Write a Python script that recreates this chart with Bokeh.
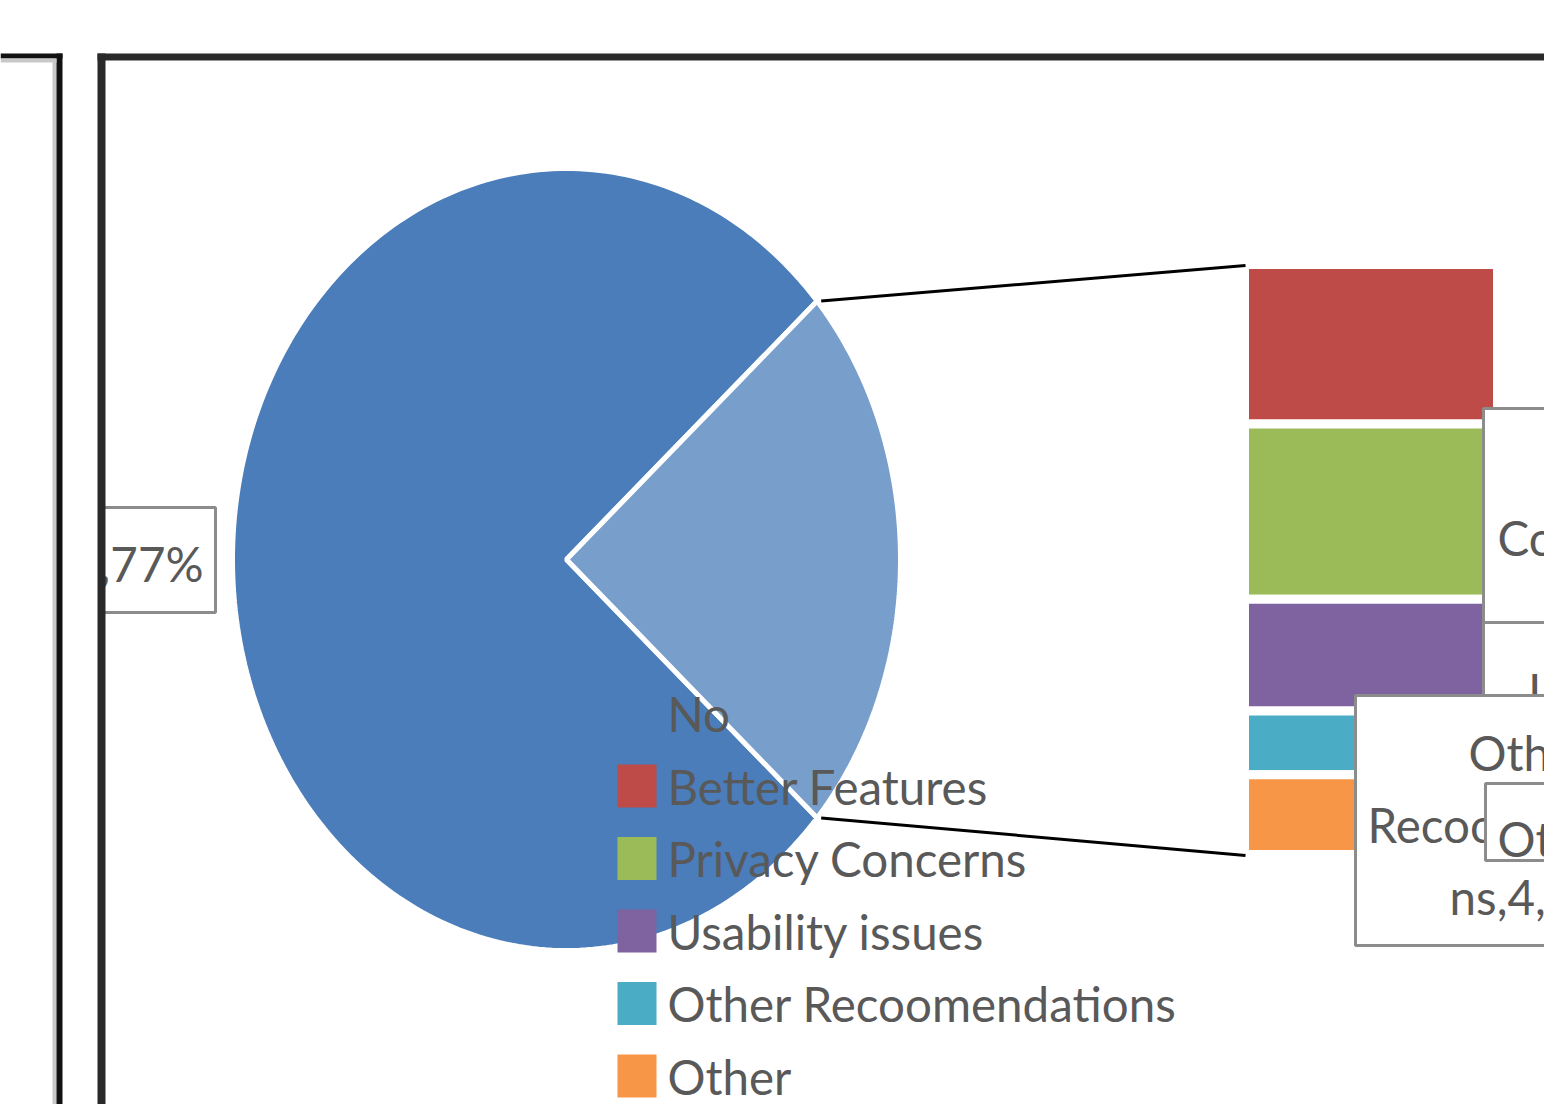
import numpy as np
from bokeh.plotting import figure
from bokeh.models import Range1d
from bokeh.core.properties import value
from bokeh.embed import file_html
from bokeh.resources import INLINE

# ---------------- data ----------------
categories = ["No", "Better Features", "Privacy Concerns", "Usability issues",
              "Other Recoomendations", "Other"]
counts = [124, 10, 11, 7, 4, 5]
colors = ["#4A7DBA", "#BE4B48", "#9BBB59", "#7F62A0", "#4BACC6", "#F79646"]
pie_colors = ["#4A7DBA", "#789FCC"]
main_label = ",77%"
label_privacy = ["Concerns,11,7%"]
label_usability = ["Usability"]
label_otherrec = ["Other", "Recoomendatio", "ns,4,2%"]
label_other = ["Other,5,3%"]

# ---------------- layout ----------------
W, H = 1544, 1104
FONT = value("Lato")
FS = value("47.5px")
TXT = "#595959"

p = figure(width=W, height=H, x_range=Range1d(0, W), y_range=Range1d(H, 0),
           x_axis_type=None, y_axis_type=None, output_backend="svg",
           toolbar_location=None, min_border=0, outline_line_color=None,
           background_fill_color="white", border_fill_color="white")
p.grid.visible = False

# pie (elliptical, as in the stretched picture)
CX, CY, RX, RY = 566, 559, 334, 391
total = sum(counts)
rest = sum(counts[1:])
theta = 2 * np.pi * rest / total


def wedge(a0, a1, n=240):
    a = np.linspace(a0, a1, n)
    xs = np.concatenate([[CX], CX + RX * np.cos(a)])
    ys = np.concatenate([[CY], CY - RY * np.sin(a)])
    return list(xs), list(ys)


xn, yn = wedge(theta / 2, 2 * np.pi - theta / 2)
xl, yl = wedge(-theta / 2, theta / 2)
p.patches([xn, xl], [yn, yl], fill_color=pie_colors, line_color="white", line_width=5)

# bar of the "rest" slice
BAR_L, BAR_R, BAR_TOP, BAR_H = 1244, 1497, 264, 590
cum = np.cumsum([0] + counts[1:]) * BAR_H / rest
tops = BAR_TOP + cum[:-1]
bottoms = BAR_TOP + cum[1:]
p.quad(left=BAR_L, right=BAR_R, top=tops, bottom=bottoms, fill_color=colors[1:],
       line_color="white", line_width=9)

# connector lines
ex = CX + RX * np.cos(theta / 2) + 4
p.segment(x0=[ex, ex], y0=[CY - RY * np.sin(theta / 2), CY + RY * np.sin(theta / 2)],
          x1=[BAR_L + 1, BAR_L + 1], y1=[BAR_TOP + 1, BAR_TOP + BAR_H + 1],
          line_color="black", line_width=3)

# legend
LX, LY0, LP = 617, 713, 72.5
ly = np.array([LY0 + i * LP for i in range(len(categories))])
p.quad(left=LX, right=LX + 39, top=ly - 21.5, bottom=ly + 21.5, fill_color=colors,
       line_color=None)
p.text(x=LX + 50, y=ly, text=categories, text_font=FONT, text_font_size=FS,
       text_color=TXT, text_baseline="middle", text_align="left")

# data labels
BOX = dict(fill_color="white", line_color="#8C8C8C", line_width=3)
TX = dict(text_font=FONT, text_font_size=FS, text_color=TXT, text_baseline="middle")

p.quad(left=[100], right=[215], top=[507], bottom=[612], **BOX)
p.text(x=[203], y=[563], text=[main_label], text_align="right", **TX)

p.quad(left=[1483], right=[1760], top=[408], bottom=[622], **BOX)
p.text(x=[1497], y=[537], text=label_privacy, text_align="left", **TX)

p.quad(left=[1483], right=[1760], top=[622], bottom=[780], **BOX)
p.text(x=[1528], y=[690], text=label_usability, text_align="left", **TX)

p.quad(left=[1355], right=[1760], top=[695], bottom=[945], **BOX)
p.text(x=[1530] * 3, y=[752, 824, 896], text=label_otherrec, text_align="center", **TX)

p.quad(left=[1485], right=[1760], top=[783], bottom=[860], **BOX)
p.text(x=[1497], y=[838], text=label_other, text_align="left", **TX)

# chart frames
p.quad(left=[52, 56, 0, 0], right=[56, 62, 62, 56], top=[58, 53, 53, 58],
       bottom=[1200, 1200, 58, 62], fill_color=["#C8C8C8", "#111111", "#111111", "#C8C8C8"],
       line_color=None)
p.quad(left=[97, 97], right=[105, 1600], top=[53, 53], bottom=[1200, 60],
       fill_color="#2A2A2A", line_color=None)

open("out.html", "w").write(file_html(p, INLINE))
